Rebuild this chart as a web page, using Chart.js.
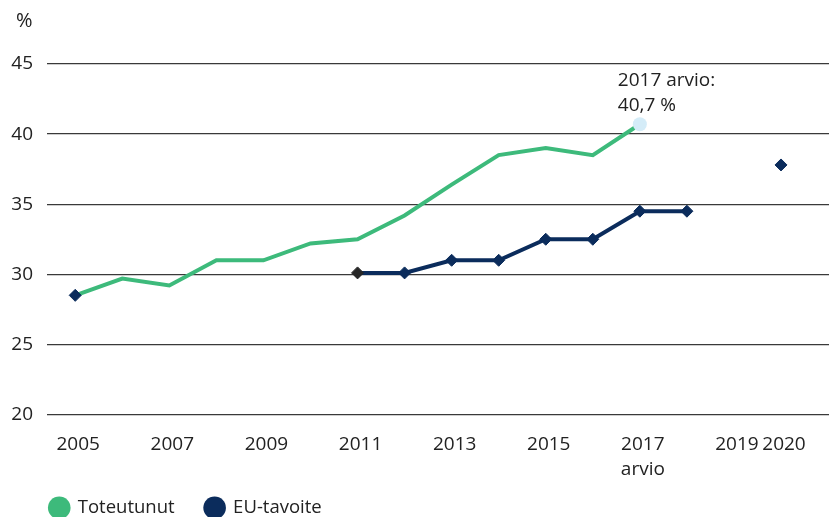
<!DOCTYPE html>
<html>
<head>
<meta charset="utf-8">
<script src="https://cdn.jsdelivr.net/npm/chart.js@4"></script>
<style>
  body { margin: 0; background: #fff; }
</style>
</head>
<body>
<canvas id="chart" width="829" height="517"></canvas>
<script>
var years = [2005, 2006, 2007, 2008, 2009, 2010, 2011, 2012, 2013, 2014, 2015, 2016, 2017, 2018, 2019, 2020];
var toteutunut = [28.5, 29.7, 29.2, 31.0, 31.0, 32.2, 32.5, 34.2, 36.4, 38.5, 39.0, 38.5, 40.7, null, null, null];
var euTavoite = [28.5, null, null, null, null, null, 30.1, 30.1, 31.0, 31.0, 32.5, 32.5, 34.5, 34.5, null, 37.8];
var tickYears = [2005, 2007, 2009, 2011, 2013, 2015, 2017, 2019, 2020];
var yTicks = [20, 25, 30, 35, 40, 45];
var arvioYear = 2017;
var arvioText = ['2017 arvio:', '40,7 %'];

var green = '#3dba7b';
var navy = '#0b2c5c';
var dark = '#262626';
var lightBlue = '#d4ecf8';
var fontName = '"Open Sans", sans-serif';

function points(values) {
    return years.map(function (yr, i) { return { x: yr, y: values[i] }; });
}

// marker per point: only the estimate year gets the light circle
var greenRadius = years.map(function (yr) { return yr === arvioYear ? 7 : 0; });
var navyColors = years.map(function (yr) { return yr === 2011 ? dark : navy; });

var textPlugin = {
    id: 'texts',
    afterDatasetsDraw: function (chart) {
        var ctx = chart.ctx;
        var yScale = chart.scales.y;
        var pt = chart.getDatasetMeta(1).data[years.indexOf(arvioYear)];
        ctx.save();
        ctx.fillStyle = '#222';
        ctx.font = '19px ' + fontName;
        ctx.textAlign = 'left';
        ctx.textBaseline = 'middle';
        ctx.fillText(arvioText[0], pt.x - 22, pt.y - 44);
        ctx.fillText(arvioText[1], pt.x - 22, pt.y - 19);
        ctx.font = '20px ' + fontName;
        ctx.fillText('%', 16, yScale.top - 43);
        ctx.restore();
    }
};

var ctx = document.getElementById('chart').getContext('2d');
var chart = new Chart(ctx, {
    type: 'line',
    data: {
        datasets: [{
            label: 'EU-tavoite',
            data: points(euTavoite),
            borderColor: navy,
            borderWidth: 4,
            pointStyle: 'rectRot',
            pointRadius: 6,
            pointBackgroundColor: navyColors,
            pointBorderColor: navyColors,
            pointBorderWidth: 1,
            spanGaps: false
        }, {
            label: 'Toteutunut',
            data: points(toteutunut),
            borderColor: green,
            borderWidth: 4,
            pointRadius: greenRadius,
            pointBackgroundColor: lightBlue,
            pointBorderColor: lightBlue,
            pointBorderWidth: 0,
            spanGaps: false
        }]
    },
    options: {
        responsive: false,
        animation: false,
        layout: { autoPadding: false, padding: { top: 64, left: 0, right: 0, bottom: -10 } },
        scales: {
            x: {
                type: 'linear',
                min: 2004.4,
                max: 2021.02,
                grid: { display: false },
                border: { display: false },
                afterBuildTicks: function (scale) {
                    scale.ticks = tickYears.map(function (v) { return { value: v }; });
                },
                afterFit: function (scale) {
                    scale.height = 81;
                    scale.paddingLeft = 0;
                    scale.paddingRight = 0;
                },
                ticks: {
                    padding: 9,
                    labelOffset: 3,
                    maxRotation: 0,
                    autoSkip: false,
                    color: '#222',
                    font: { family: fontName, size: 19, lineHeight: 1.35 },
                    callback: function (v) {
                        return v === arvioYear ? [String(v), 'arvio'] : String(v);
                    }
                }
            },
            y: {
                min: 20,
                max: 45,
                afterBuildTicks: function (scale) {
                    scale.ticks = yTicks.map(function (v) { return { value: v }; });
                },
                afterFit: function (scale) { scale.width = 47; },
                grid: { color: '#3a3a3a', lineWidth: 1.2, drawTicks: false },
                border: { display: false },
                ticks: {
                    padding: 14,
                    color: '#222',
                    font: { family: fontName, size: 19 }
                }
            }
        },
        plugins: {
            tooltip: { enabled: false },
            legend: {
                position: 'bottom',
                align: 'start',
                fullSize: false,
                labels: {
                    usePointStyle: true,
                    boxHeight: 16,
                    padding: 3,
                    font: { family: fontName, size: 18.5 },
                    generateLabels: function () {
                        return [
                            { text: 'Toteutunut\u2003\u2002', fillStyle: green, strokeStyle: green, lineWidth: 0, pointStyle: 'circle', fontColor: '#222', datasetIndex: 1 },
                            { text: 'EU-tavoite', fillStyle: navy, strokeStyle: navy, lineWidth: 0, pointStyle: 'circle', fontColor: '#222', datasetIndex: 0 }
                        ];
                    }
                }
            }
        }
    },
    plugins: [textPlugin]
});
</script>
</body>
</html>
